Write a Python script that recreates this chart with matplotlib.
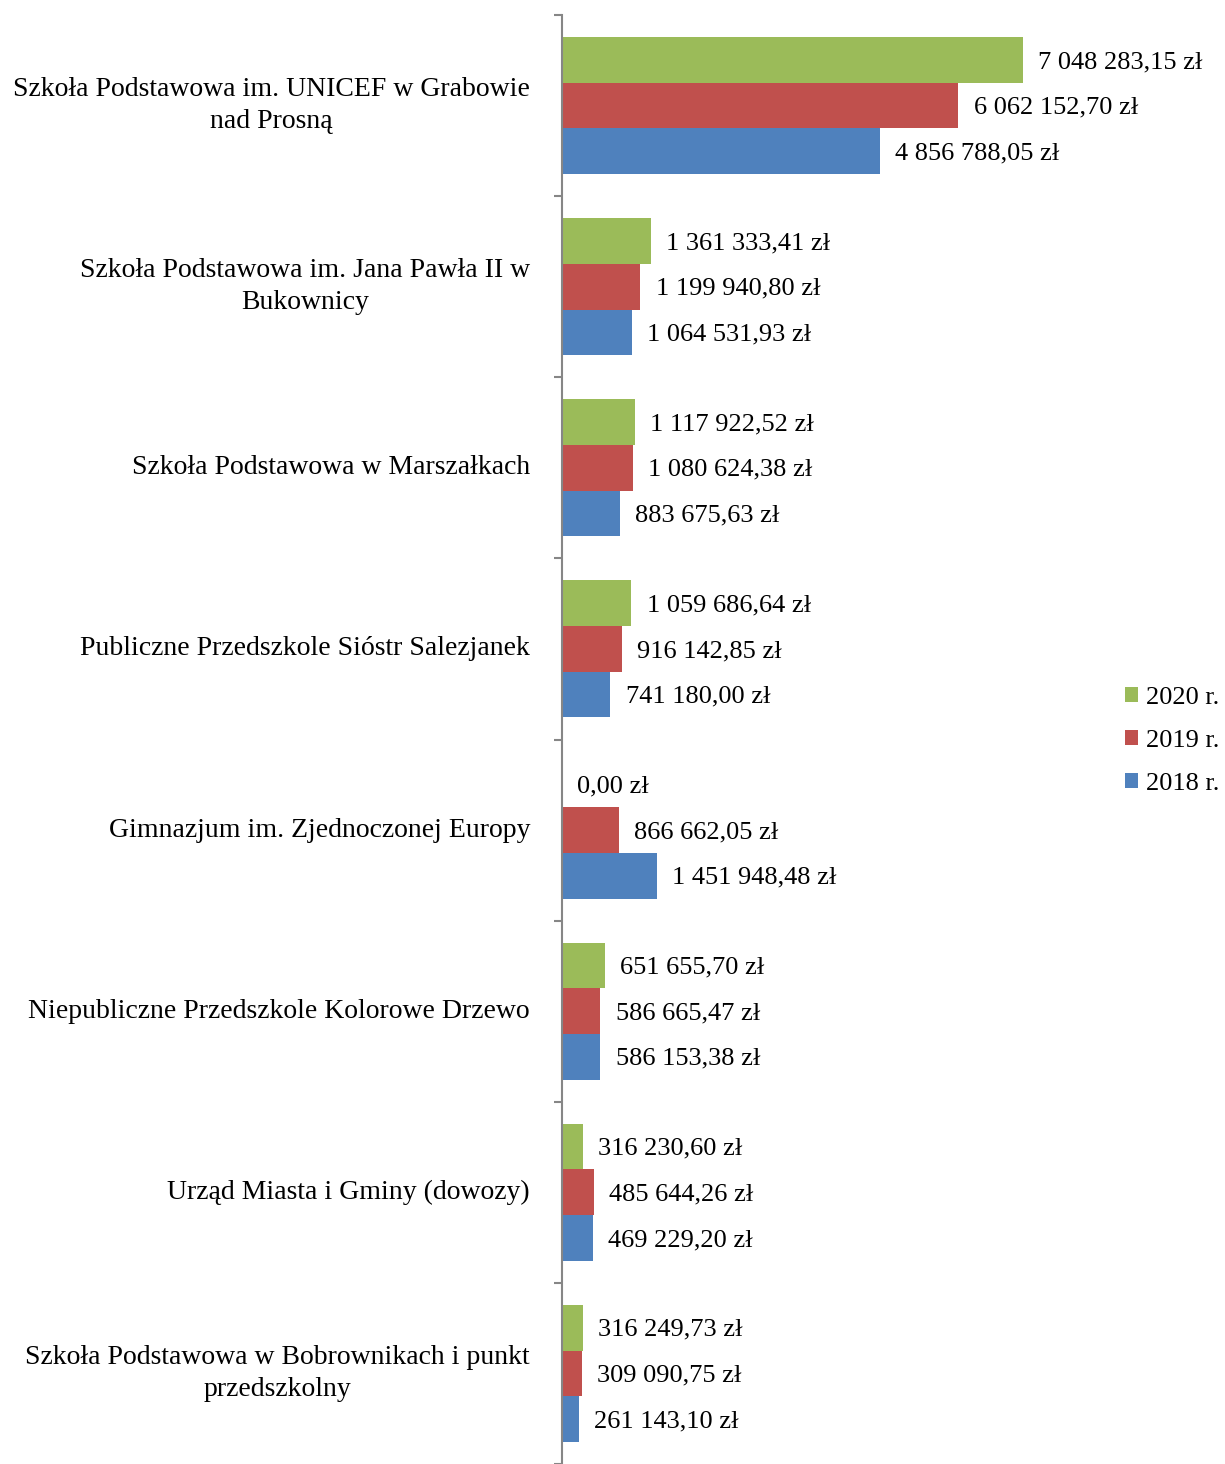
import numpy as np
import matplotlib.pyplot as plt

# dane
kategorie = [
    "Szkoła Podstawowa im. UNICEF w Grabowie\nnad Prosną",
    "Szkoła Podstawowa im. Jana Pawła II w\nBukownicy",
    "Szkoła Podstawowa w Marszałkach",
    "Publiczne Przedszkole Sióstr Salezjanek",
    "Gimnazjum im. Zjednoczonej Europy",
    "Niepubliczne Przedszkole Kolorowe Drzewo",
    "Urząd Miasta i Gminy (dowozy)",
    "Szkoła Podstawowa w Bobrownikach i punkt\nprzedszkolny",
]
lata = ["2020 r.", "2019 r.", "2018 r."]
w2020 = [7048283.15, 1361333.41, 1117922.52, 1059686.64, 0.00, 651655.70, 316230.60, 316249.73]
w2019 = [6062152.70, 1199940.80, 1080624.38, 916142.85, 866662.05, 586665.47, 485644.26, 309090.75]
w2018 = [4856788.05, 1064531.93, 883675.63, 741180.00, 1451948.48, 586153.38, 469229.20, 261143.10]
kolory = ["#9BBB59", "#C0504D", "#4F81BD"]

plt.rcParams['font.family'] = ['Liberation Serif', 'DejaVu Serif']


def zl(v):
    s = "{:,.2f}".format(v).replace(",", " ").replace(".", ",")
    return s + " zł"


fig = plt.figure(figsize=(12.25, 14.64), dpi=100)
ax = fig.add_axes([562 / 1225, 0.0, (1085 - 562) / 1225, 1 - 15 / 1464])

n = len(kategorie)
y = np.arange(n)
h = 0.252
serie = [w2020, w2019, w2018]
for k, (wart, kol, rok) in enumerate(zip(serie, kolory, lata)):
    pos = y + (k - 1) * h
    ax.barh(pos, wart, height=h, color=kol, label=rok)
    for p, v in zip(pos, wart):
        ax.annotate(zl(v), (v, p), xytext=(11, -1.5), textcoords='offset points',
                    va='center', ha='left', fontsize=19, annotation_clip=False)

ax.set_xlim(0, 8e6)
ax.set_ylim(n - 0.5, -0.5)

# etykiety kategorii (32 px na lewo od osi)
for i, k in enumerate(kategorie):
    ax.annotate(k, (0, i), xytext=(-23, 0), textcoords='offset points',
                fontsize=20, ha='right', va='center', multialignment='center',
                linespacing=1.35, annotation_clip=False)

ax.set_yticks(np.arange(n + 1) - 0.5)
ax.set_yticklabels([])
ax.tick_params(axis='y', length=6, width=1.5, color='#868686', direction='out')
ax.set_xticks([])
for s in ['top', 'right', 'bottom']:
    ax.spines[s].set_visible(False)
ax.spines['left'].set_color('#868686')
ax.spines['left'].set_linewidth(1.5)

fig.legend(*ax.get_legend_handles_labels(), loc='center left',
           bbox_to_anchor=(0.918, 0.494), frameon=False, fontsize=19,
           handlelength=0.5, handleheight=0.5, handletextpad=0.3,
           labelspacing=0.8, borderaxespad=0, borderpad=0)

fig.savefig("out.png", dpi=100)
